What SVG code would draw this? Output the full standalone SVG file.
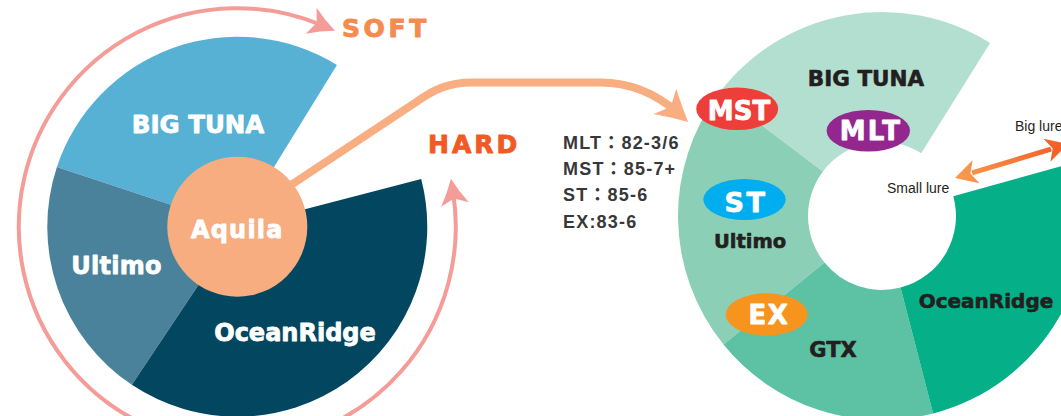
<svg xmlns="http://www.w3.org/2000/svg" width="1061" height="416" viewBox="0 0 1061 416">
<style>
.lbl{font-family:"DejaVu Sans",sans-serif;font-weight:bold;text-anchor:middle;stroke-width:0.8px;stroke-linejoin:round}
.w{fill:#ffffff;stroke:#ffffff}
.d{fill:#231f20;stroke:#231f20;stroke-width:0.6px}
.spec{font-family:"Liberation Sans","Noto Sans CJK KR",sans-serif;font-weight:bold;font-size:18px;fill:#383838;letter-spacing:1.2px}
.lure{font-family:"Liberation Sans",sans-serif;font-size:14px;fill:#231f20}
.big{font-family:"DejaVu Sans",sans-serif;font-weight:bold;stroke-width:0.9px;stroke-linejoin:round}
</style>
<defs>
<marker id="pinkHead" viewBox="0 0 28 28" refX="14" refY="14" markerWidth="28" markerHeight="28" markerUnits="userSpaceOnUse" orient="auto-start-reverse">
<path d="M28,14 Q14,8 2,0 L8,14 L2,28 Q14,20 28,14 Z" fill="#f49d98"/>
</marker>
<marker id="peachHead" viewBox="0 0 32 34" refX="18.5" refY="17" markerWidth="32" markerHeight="34" markerUnits="userSpaceOnUse" orient="auto">
<path d="M32,17 Q16,9 1,0 L9,17 L1,34 Q16,25 32,17 Z" fill="#f8ae80"/>
</marker>
<linearGradient id="lureGrad" gradientUnits="userSpaceOnUse" x1="955" y1="178" x2="1068" y2="144">
<stop offset="0" stop-color="#f89c50"/>
<stop offset="1" stop-color="#f15a24"/>
</linearGradient>
</defs>

<!-- Left pie -->
<g id="left-bigtuna">
<path d="M237.3,226.7 L56.9,167 A190,190 0 0 1 336.9,64.9 Z" fill="#56b1d5"/>
<text class="lbl w" x="198" y="132.8" font-size="24.5">BIG TUNA</text>
</g>
<g id="left-ultimo">
<path d="M237.3,226.7 L131.9,384.8 A190,190 0 0 1 56.9,167 Z" fill="#4a829c"/>
<text class="lbl w" x="116.5" y="274" font-size="24" letter-spacing="0.3">Ultimo</text>
</g>
<g id="left-oceanridge">
<path d="M237.3,226.7 L421.2,179.1 A190,190 0 0 1 131.9,384.8 Z" fill="#02475f"/>
<text class="lbl w" x="295" y="341.4" font-size="24">OceanRidge</text>
</g>
<g id="aquila">
<circle cx="237.3" cy="226.7" r="70" fill="#f7ad7f"/>
<text class="lbl w" x="237.3" y="237.7" font-size="24" letter-spacing="1.2">Aquila</text>
</g>
<g id="soft">
<text class="big" x="342" y="37" font-size="25" letter-spacing="3.6" fill="#f68b4f" stroke="#f68b4f">SOFT</text>
</g>
<g id="hard">
<text class="big" x="428" y="153" font-size="25" letter-spacing="3" fill="#f15a24" stroke="#f15a24">HARD</text>
</g>

<!-- Right donut -->
<g id="right-bigtuna">
<path d="M719.1,93.2 A204,204 0 0 1 990.1,43 L921.2,153.2 A74,74 0 0 0 822.9,171.5 Z" fill="#b3dfd1"/>
<text class="lbl d" x="866" y="86" font-size="21.5">BIG TUNA</text>
</g>
<g id="right-ultimo">
<path d="M723.5,344.4 A204,204 0 0 1 719.1,93.2 L822.9,171.5 A74,74 0 0 0 824.5,262.6 Z" fill="#8bcfb6"/>
<text class="lbl d" x="750" y="247.7" font-size="19.5">Ultimo</text>
</g>
<g id="right-gtx">
<path d="M933.1,413.5 A204,204 0 0 1 723.5,344.4 L824.5,262.6 A74,74 0 0 0 900.5,287.6 Z" fill="#5dc2a3"/>
<text class="lbl d" x="833" y="356.7" font-size="21">GTX</text>
</g>
<g id="right-oceanridge">
<path d="M1078.6,161.5 A204,204 0 0 1 933.1,413.5 L900.5,287.6 A74,74 0 0 0 953.3,196.2 Z" fill="#05b088"/>
<text class="lbl d" x="986" y="308" font-size="20">OceanRidge</text>
</g>
<g id="mst">
<ellipse cx="737.2" cy="108.8" rx="41" ry="21.2" fill="#ee3e3a"/>
<text class="lbl w" x="739" y="120" font-size="26">MST</text>
</g>
<g id="mlt">
<ellipse cx="868.3" cy="130.8" rx="41.7" ry="20.8" fill="#93278f"/>
<text class="lbl w" x="871" y="140" font-size="26" letter-spacing="2.2">MLT</text>
</g>
<g id="st">
<ellipse cx="744.5" cy="199.5" rx="41.2" ry="20.5" fill="#00aeef"/>
<text class="lbl w" x="746" y="212" font-size="27" letter-spacing="2.5">ST</text>
</g>
<g id="ex">
<ellipse cx="766.7" cy="314.5" rx="41" ry="21.2" fill="#f7941e"/>
<text class="lbl w" x="769" y="324" font-size="26" letter-spacing="1.6">EX</text>
</g>
<g id="specs">
<text class="spec" x="563" y="149">MLT：82-3/6</text>
<text class="spec" x="563" y="175">MST：85-7+</text>
<text class="spec" x="563" y="201">ST：85-6</text>
<text class="spec" x="563" y="228">EX:83-6</text>
</g>
<g id="small-lure">
<text class="lure" x="887" y="193">Small lure</text>
</g>
<g id="big-lure">
<text class="lure" x="1015" y="131">Big lure</text>
</g>

<!-- Connectors -->
<g id="connectors">
<path d="M453.1,192.6 A218.5,218.5 0 1 1 322.2,25.4" fill="none" stroke="#f49d98" stroke-width="4" marker-start="url(#pinkHead)" marker-end="url(#pinkHead)"/>
<path d="M291,185 L417,101.5 C432,91 447,82.5 472,82.5 L600,82.5 C636,82.5 660,97 678,113" fill="none" stroke="#f8ae80" stroke-width="8" marker-end="url(#peachHead)"/>
<line x1="972" y1="172.9" x2="1051" y2="149.1" stroke="url(#lureGrad)" stroke-width="5"/>
<path d="M955,178 L979.5,183.2 L970.3,173.4 L972.6,160.2 Z" fill="url(#lureGrad)"/>
<path d="M1068,144 L1043.5,138.8 L1052.7,148.6 L1050.4,161.8 Z" fill="url(#lureGrad)"/>
</g>
</svg>
